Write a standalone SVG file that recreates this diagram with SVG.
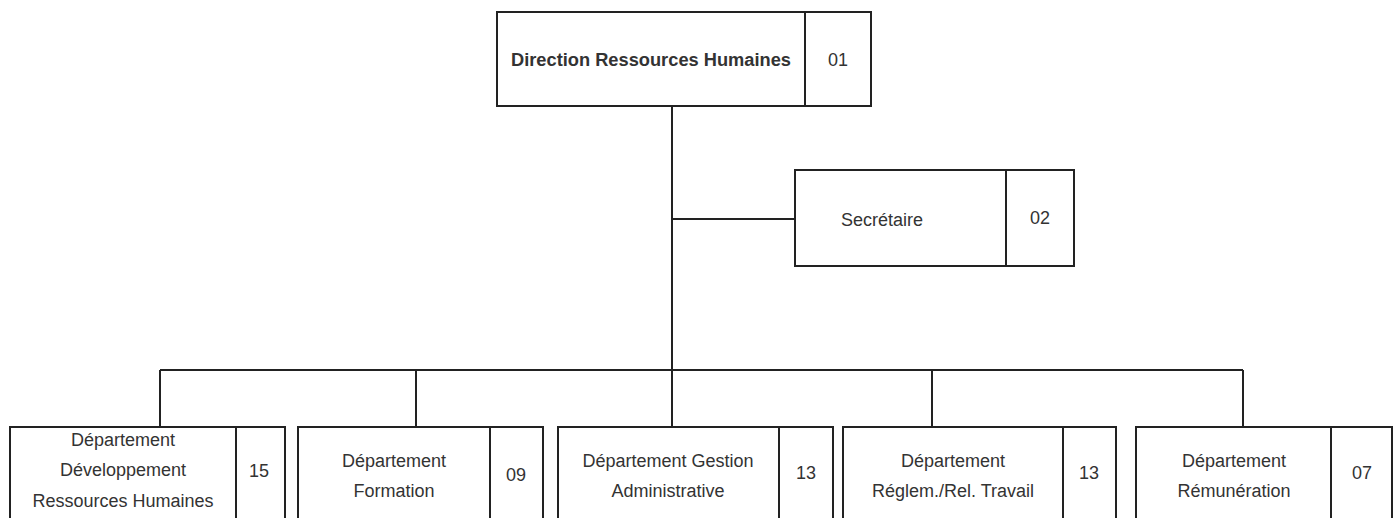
<svg xmlns="http://www.w3.org/2000/svg" width="1399" height="518" viewBox="0 0 1399 518">
<style>
.box{fill:#fff;stroke:#222;stroke-width:2}
.div{stroke:#222;stroke-width:2}
.conn{stroke:#222;stroke-width:2;fill:none}
text{font-family:"Liberation Sans",Arial,sans-serif;font-size:18px;fill:#333;text-anchor:middle}
.b{font-weight:bold;font-size:18px}
</style>
<rect width="1399" height="518" fill="#fff"/>
<g id="connectors">
<path class="conn" d="M672 106V370"/>
<path class="conn" d="M672 219H795"/>
<path class="conn" d="M160 370H1243"/>
<path class="conn" d="M160 370V427M416 370V427M672 370V427M932 370V427M1243 370V427"/>
</g>
<g id="n01">
<rect class="box" x="497" y="12" width="374" height="94"/>
<line class="div" x1="805" y1="12" x2="805" y2="106"/>
<text class="b" x="651" y="66" textLength="280" lengthAdjust="spacingAndGlyphs">Direction Ressources Humaines</text>
<text x="838" y="66">01</text>
</g>
<g id="n02">
<rect class="box" x="795" y="170" width="279" height="96"/>
<line class="div" x1="1006" y1="170" x2="1006" y2="266"/>
<text x="882" y="226">Secrétaire</text>
<text x="1040" y="224">02</text>
</g>
<g id="n15">
<rect class="box" x="10" y="427" width="275" height="100"/>
<line class="div" x1="236" y1="427" x2="236" y2="527"/>
<text x="123" y="446">Département</text>
<text x="123" y="476">Développement</text>
<text x="123" y="507">Ressources Humaines</text>
<text x="259" y="477">15</text>
</g>
<g id="n09">
<rect class="box" x="298" y="427" width="245" height="100"/>
<line class="div" x1="490" y1="427" x2="490" y2="527"/>
<text x="394" y="467">Département</text>
<text x="394" y="497">Formation</text>
<text x="516" y="481">09</text>
</g>
<g id="n13a">
<rect class="box" x="558" y="427" width="275" height="100"/>
<line class="div" x1="779" y1="427" x2="779" y2="527"/>
<text x="668" y="467">Département Gestion</text>
<text x="668" y="497">Administrative</text>
<text x="806" y="479">13</text>
</g>
<g id="n13b">
<rect class="box" x="843" y="427" width="273" height="100"/>
<line class="div" x1="1063" y1="427" x2="1063" y2="527"/>
<text x="953" y="467">Département</text>
<text x="953" y="497">Réglem./Rel. Travail</text>
<text x="1089" y="479">13</text>
</g>
<g id="n07">
<rect class="box" x="1136" y="427" width="256" height="100"/>
<line class="div" x1="1331" y1="427" x2="1331" y2="527"/>
<text x="1234" y="467">Département</text>
<text x="1234" y="497">Rémunération</text>
<text x="1362" y="479">07</text>
</g>
</svg>
